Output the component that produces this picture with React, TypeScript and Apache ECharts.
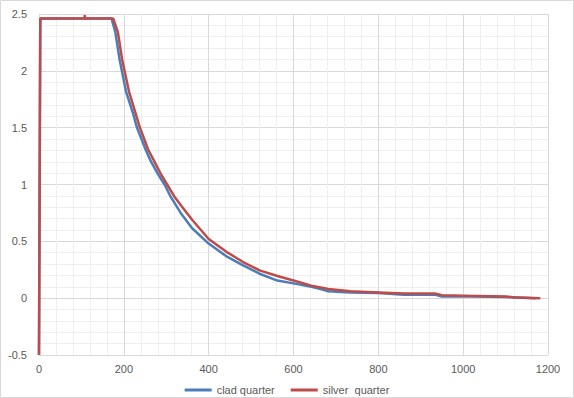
import React, { useEffect, useRef } from "react";
import * as echarts from "echarts";

const cladX = [0, 3, 171, 180, 190, 205, 223, 230, 251, 263, 279, 296, 310, 334, 361, 400, 441, 480, 520, 562, 600, 642, 664, 682, 711, 734, 800, 860, 935, 950, 1030, 1100, 1170];
const cladY = [-0.5, 2.46, 2.46, 2.34, 2.1, 1.82, 1.61, 1.51, 1.31, 1.21, 1.1, 1.0, 0.895, 0.75, 0.615, 0.48, 0.37, 0.29, 0.215, 0.155, 0.13, 0.1, 0.08, 0.06, 0.055, 0.05, 0.045, 0.03, 0.03, 0.015, 0.015, 0.01, 0.0];

const silverX = [0, 3, 107, 108, 109, 175, 186, 196, 212, 229, 237, 257, 271, 286, 302, 319, 334, 361, 400, 441, 480, 520, 562, 600, 642, 664, 682, 711, 734, 800, 860, 935, 950, 1030, 1100, 1120, 1182];
const silverY = [-0.5, 2.46, 2.46, 2.49, 2.46, 2.46, 2.34, 2.1, 1.82, 1.61, 1.51, 1.31, 1.21, 1.1, 1.0, 0.895, 0.82, 0.69, 0.52, 0.41, 0.32, 0.245, 0.195, 0.155, 0.11, 0.095, 0.08, 0.07, 0.06, 0.05, 0.04, 0.04, 0.025, 0.02, 0.015, 0.005, 0.0];

const seriesNames = ["clad quarter", "silver  quarter"];
const seriesColors = ["#4a7ebb", "#be4b48"];

const pairs = (xs: number[], ys: number[]) => xs.map((x, i) => [x, ys[i]]);

export default function App() {
  const ref = useRef<HTMLDivElement>(null);
  useEffect(() => {
    if (!ref.current) return;
    const chart = echarts.init(ref.current, undefined, { renderer: "svg" });
    const font = "'Liberation Sans', Arial, sans-serif";
    chart.setOption({
      animation: false,
      backgroundColor: "#ffffff",
      grid: { left: 39, right: 26, top: 14, bottom: 43, containLabel: false },
      graphic: [
        {
          type: "rect",
          shape: { x: 0.5, y: 0.5, width: 573, height: 397 },
          style: { fill: "none", stroke: "#d9d9d9", lineWidth: 1 },
          silent: true,
          z: -10,
        },
      ],
      legend: {
        data: seriesNames,
        top: 379.5,
        left: "center",
        icon: "rect",
        itemWidth: 27,
        itemHeight: 3,
        itemGap: 16,
        textStyle: { fontFamily: font, fontSize: 11, color: "#595959" },
      },
      xAxis: {
        type: "value",
        min: 0,
        max: 1200,
        interval: 200,
        axisLine: { show: true, onZero: true, lineStyle: { color: "#d9d9d9", width: 1 } },
        axisTick: { show: false },
        axisLabel: {
          fontFamily: font,
          fontSize: 11,
          color: "#595959",
          margin: 8,
          formatter: (v: number) => String(v),
        },
        splitLine: { show: true, lineStyle: { color: "#d9d9d9", width: 1 } },
        minorTick: { show: false, splitNumber: 5 },
        minorSplitLine: { show: true, lineStyle: { color: "#efefef", width: 1 } },
      },
      yAxis: {
        type: "value",
        min: -0.5,
        max: 2.5,
        interval: 0.5,
        axisLine: { show: false },
        axisTick: { show: false },
        axisLabel: {
          fontFamily: font,
          fontSize: 11,
          color: "#595959",
          margin: 12,
          formatter: (v: number) => String(v),
        },
        splitLine: { show: true, lineStyle: { color: "#d9d9d9", width: 1 } },
        minorTick: { show: false, splitNumber: 5 },
        minorSplitLine: { show: true, lineStyle: { color: "#efefef", width: 1 } },
      },
      series: [
        {
          name: seriesNames[0],
          type: "line",
          data: pairs(cladX, cladY),
          showSymbol: false,
          symbol: "none",
          lineStyle: { color: seriesColors[0], width: 2.5 },
          itemStyle: { color: seriesColors[0] },
          z: 2,
        },
        {
          name: seriesNames[1],
          type: "line",
          data: pairs(silverX, silverY),
          showSymbol: false,
          symbol: "none",
          lineStyle: { color: seriesColors[1], width: 2.5 },
          itemStyle: { color: seriesColors[1] },
          z: 3,
        },
      ],
    });
    return () => chart.dispose();
  }, []);
  return (
    <div
      ref={ref}
      style={{ position: "fixed", left: 0, top: 0, width: 574, height: 398 }}
    />
  );
}
